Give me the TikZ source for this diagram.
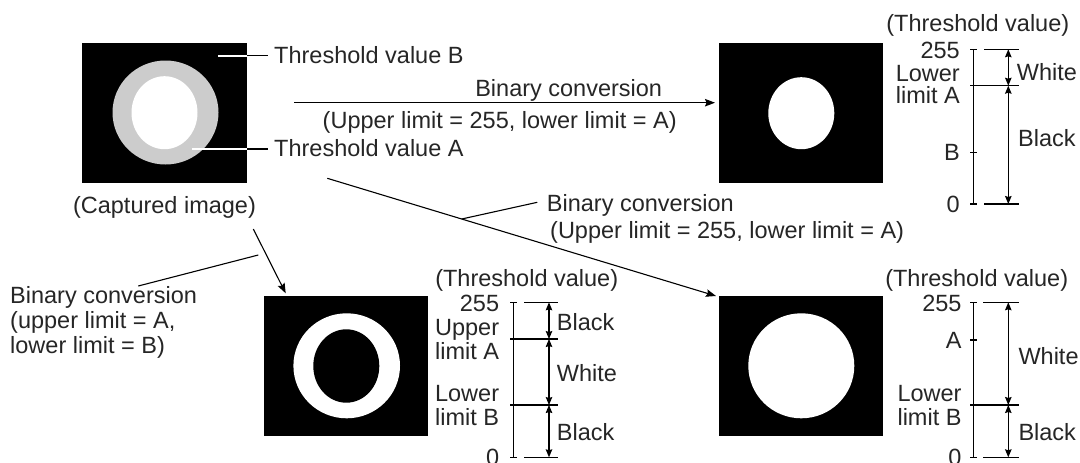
\documentclass[tikz,border=0pt]{standalone}
\usepackage{fontspec}
\setmainfont{Liberation Sans}
\usetikzlibrary{arrows.meta}
\begin{document}
\begin{tikzpicture}[x=1pt,y=-1pt,
  txt/.style={font=\fontsize{23.5}{26}\selectfont, inner sep=0pt, text=black!85},
  ln/.style={line width=1.1pt},
  arr/.style={ln,-{Stealth[length=10pt,width=7.5pt,inset=1.5pt]}},
  dimarr/.style={ln,{Stealth[length=8pt,width=6.5pt,inset=1pt]}-{Stealth[length=8pt,width=6.5pt,inset=1pt]}},
  img/.style={fill=black, inner sep=0pt, minimum width=164pt, minimum height=140pt}]
\fill[white] (0,0) rectangle (1080,463);
\useasboundingbox (0,0) rectangle (1080,463);
\clip (0,0) rectangle (1080,463);

% ---------- images ----------
\node[img, minimum width=165pt] (cap) at (164.5,113) {};
\fill[black!20] (165.5,112.5) ellipse [x radius=53, y radius=52];
\fill[white] (164.5,112.7) ellipse [x radius=33, y radius=36.5];

\node[img] (tr) at (801,113) {};
\fill[white] (801.3,113.2) ellipse [x radius=33, y radius=36];

\node[img] (bm) at (346,366) {};
\fill[white] (346.7,365.8) ellipse [x radius=53.3, y radius=52.5];
\fill[black] (346.3,366) ellipse [x radius=33, y radius=36.7];

\node[img] (br) at (801,366) {};
\fill[white] (801.3,365.8) ellipse [x radius=53, y radius=52.5];

% ---------- captured image labels ----------
\node[txt, anchor=base west] (thB) at (274,63.5) {Threshold value B};
\node[txt, anchor=base west] (thA) at (274,156.5) {Threshold value A};
\node[txt, anchor=base] (capt) at (164.5,213.5) {(Captured image)};
\coordinate (lbw) at (218,55.7);
\coordinate (lbe) at (247,55.7);
\coordinate (law) at (192,149);
\coordinate (lae) at (247,149);
\draw[white, line width=2pt] (lbw) -- (lbe);
\draw[ln] (lbe) -- ([xshift=-6pt]thB.west |- lbe);
\draw[white, line width=2pt] (law) -- (lae);
\draw[ln] (lae) -- ([xshift=-6pt]thA.west |- lae);

% ---------- arrows ----------
\coordinate (a1s) at (294,102.7);
\coordinate (a1e) at (715,102.7);
\draw[arr] (a1s) -- (a1e);
\node[txt, anchor=base] (bc1) at (568.7,96.3) {Binary conversion};
\node[txt, anchor=base] (ul1) at (499.7,128.5) {(Upper limit = 255, lower limit = A)};

\coordinate (a2s) at (327.3,178.3);
\coordinate (a2e) at (716,296);
\draw[arr] (a2s) -- (a2e);
\coordinate (m2) at (461.7,219);
\node[txt, anchor=base west] (bc2) at (546.7,211) {Binary conversion};
\node[txt, anchor=base west] (ul2) at (550,238) {(Upper limit = 255, lower limit = A)};
\coordinate (l2e) at (537.3,202.3);
\draw[ln] (m2) -- (l2e);

\coordinate (a3s) at (253.3,229);
\coordinate (a3e) at (285.7,293.3);
\draw[arr] (a3s) -- (a3e);
\node[txt, anchor=base west] (bc3) at (10,303.3) {Binary conversion};
\node[txt, anchor=base west] (ul3) at (10,328.3) {(upper limit = A,};
\node[txt, anchor=base west] (ll3) at (10,353.3) {lower limit = B)};
\coordinate (l3s) at (138.3,286);
\coordinate (l3e) at (258.3,255);
\draw[ln] (l3s) -- (l3e);

% ---------- top right scale ----------
\node[txt, anchor=base] (tv1) at (977.8,31.7) {(Threshold value)};
\draw[ln] (973.3,49.3) -- (973.3,204);
\foreach \yy in {49.3,85.7,152.3,204} \draw[ln] (970,\yy) -- (976.6,\yy);
\draw[ln] (984,49.3) -- (1019.3,49.3);
\draw[ln] (976.6,85.7) -- (1019.3,85.7);
\draw[ln] (984,204) -- (1019.3,204);
\draw[dimarr] (1008.3,49.3) -- (1008.3,85.7);
\draw[dimarr] (1008.3,85.7) -- (1008.3,204);
\node[txt, anchor=base east] at (960,58.4) {255};
\node[txt, anchor=base east] at (960,81.7) {Lower};
\node[txt, anchor=base east] at (960,103.5) {limit A};
\node[txt, anchor=base east] at (960,160) {B};
\node[txt, anchor=base east] at (960,212) {0};
\node[txt, anchor=base west] at (1016.7,80) {White};
\node[txt, anchor=base west] at (1018,146.7) {Black};

% ---------- bottom middle scale ----------
\node[txt, anchor=base] (tv2) at (526.7,286) {(Threshold value)};
\draw[ln] (513.3,302.3) -- (513.3,457.3);
\foreach \yy in {302.3,339,405,457.3} \draw[ln] (510,\yy) -- (516.6,\yy);
\draw[ln] (524,302.3) -- (558.3,302.3);
\draw[ln] (516.6,339) -- (558.3,339);
\draw[ln] (516.6,405) -- (558.3,405);
\draw[ln] (524,457.3) -- (558.3,457.3);
\draw[dimarr] (549,302.3) -- (549,339);
\draw[dimarr] (549,339) -- (549,405);
\draw[dimarr] (549,405) -- (549,457.3);
\node[txt, anchor=base east] at (499.3,311.7) {255};
\node[txt, anchor=base east] at (499.3,335) {Upper};
\node[txt, anchor=base east] at (499.3,359.3) {limit A};
\node[txt, anchor=base east] at (499.3,401.7) {Lower};
\node[txt, anchor=base east] at (499.3,425.3) {limit B};
\node[txt, anchor=base east] at (499.3,465.3) {0};
\node[txt, anchor=base west] at (556.7,330) {Black};
\node[txt, anchor=base west] at (556.7,381.7) {White};
\node[txt, anchor=base west] at (556.7,440) {Black};

% ---------- bottom right scale ----------
\node[txt, anchor=base] (tv3) at (976.7,286) {(Threshold value)};
\draw[ln] (973.3,302.3) -- (973.3,457.3);
\foreach \yy in {302.3,340,405,457.3} \draw[ln] (970,\yy) -- (976.6,\yy);
\draw[ln] (983.3,302.3) -- (1019.3,302.3);
\draw[ln] (976.6,405) -- (1019.3,405);
\draw[ln] (983.3,457.3) -- (1019.3,457.3);
\draw[dimarr] (1008.3,302.3) -- (1008.3,405);
\draw[dimarr] (1008.3,405) -- (1008.3,457.3);
\node[txt, anchor=base east] at (961.7,311.7) {255};
\node[txt, anchor=base east] at (961.7,348.3) {A};
\node[txt, anchor=base east] at (961.7,401.7) {Lower};
\node[txt, anchor=base east] at (961.7,425.3) {limit B};
\node[txt, anchor=base east] at (961.7,465.3) {0};
\node[txt, anchor=base west] at (1018.3,364.3) {White};
\node[txt, anchor=base west] at (1018.3,440) {Black};
\end{tikzpicture}
\end{document}
